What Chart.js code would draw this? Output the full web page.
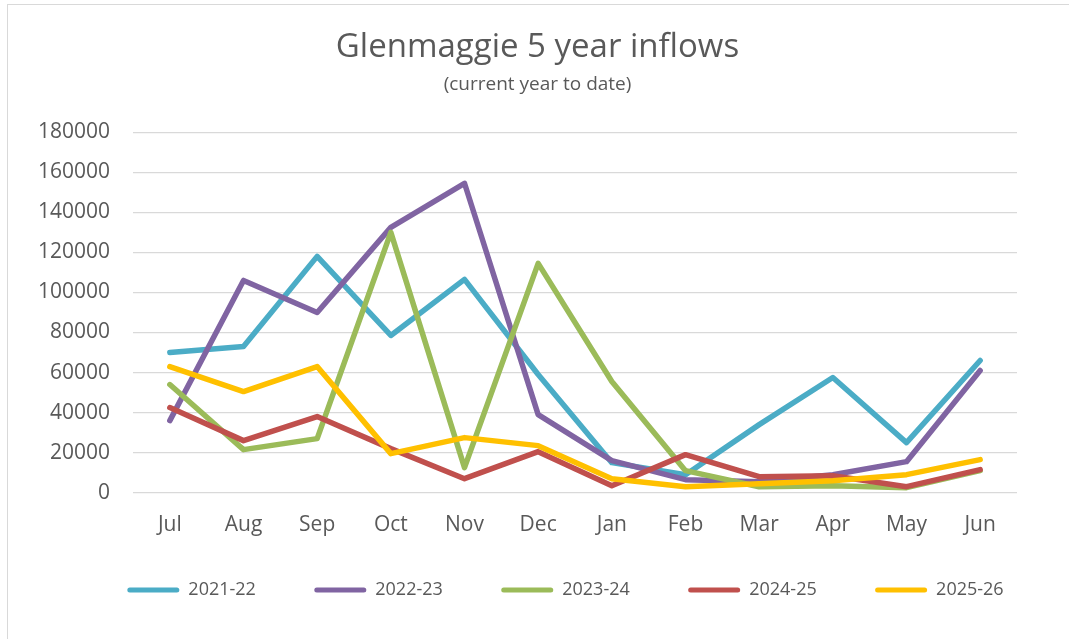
<!DOCTYPE html>
<html>
<head>
<meta charset="utf-8">
<script src="https://cdn.jsdelivr.net/npm/chart.js@4.4.1/dist/chart.umd.min.js"></script>
<style>
  html, body { margin: 0; padding: 0; background: #fff; }
  #wrap { position: relative; width: 1069px; height: 639px; overflow: hidden; }
  #frame { position: absolute; left: 7px; top: 4px; width: 1080px; height: 650px;
           border: 1.5px solid #d9d9d9; box-sizing: border-box; pointer-events: none; }
  canvas { position: absolute; left: 0; top: 0; }
</style>
</head>
<body>
<div id="wrap">
  <canvas id="inflowChart" width="1069" height="639"></canvas>
  <div id="frame"></div>
</div>
<script>
// Months of the water year
const months = ["Jul", "Aug", "Sep", "Oct", "Nov", "Dec", "Jan", "Feb", "Mar", "Apr", "May", "Jun"];

// Inflows per season
const inflow2122 = [70000, 73000, 118000, 78500, 106500, 59000, 15000, 9000, 34000, 57500, 25000, 66000];
const inflow2223 = [36000, 106000, 90000, 132500, 154500, 39000, 16000, 6500, 5500, 9000, 15500, 61000];
const inflow2324 = [54000, 21500, 27000, 130000, 12500, 114500, 55500, 11000, 3000, 3500, 2500, 11000];
const inflow2425 = [42500, 26000, 38000, 22000, 7000, 20500, 3500, 19000, 8000, 8500, 3000, 11500];
const inflow2526 = [63000, 50500, 63000, 19500, 27500, 23500, 7000, 3000, 4500, 6000, 9000, 16500];

const seasons = ["2021-22", "2022-23", "2023-24", "2024-25", "2025-26"];
const colours = ["#4BACC6", "#8064A2", "#9BBB59", "#C0504D", "#FFC000"];
const values = [inflow2122, inflow2223, inflow2324, inflow2425, inflow2526];

const FONT = "'Open Sans', 'DejaVu Sans', sans-serif";
const GREY = "#595959";

// shift title and legend so they sit where Excel put them
const nudge = {
  id: "nudge",
  afterLayout(chart) {
    chart.boxes.forEach(b => {
      if (b === chart.legend) {
        b.left += 52; b.right += 52;
        b.top -= 16; b.bottom -= 16;
      } else if (b.options && b.options.text && !b.axis) {
        b.left += 24; b.right += 24;
      }
    });
  }
};

const datasets = seasons.map((s, i) => ({
  label: s,
  data: values[i],
  borderColor: colours[i],
  backgroundColor: colours[i],
  borderWidth: 5.5,
  borderCapStyle: "round",
  borderJoinStyle: "round",
  pointRadius: 0,
  pointHoverRadius: 0,
  tension: 0,
  fill: false,
  order: seasons.length - i
}));

const ctx = document.getElementById("inflowChart").getContext("2d");
new Chart(ctx, {
  type: "line",
  data: { labels: months, datasets: datasets },
  plugins: [nudge],
  options: {
    responsive: false,
    animation: false,
    layout: { padding: { left: 10, right: 52, top: 0, bottom: 13.9 } },
    plugins: {
      title: {
        display: true,
        text: "Glenmaggie 5 year inflows",
        color: GREY,
        font: { family: FONT, size: 33, weight: "normal" },
        padding: { top: 28.2, bottom: 0 }
      },
      subtitle: {
        display: true,
        text: "(current year to date)",
        color: GREY,
        font: { family: FONT, size: 19, weight: "normal" },
        padding: { top: 5.4, bottom: 36.2 }
      },
      legend: {
        position: "bottom",
        labels: {
          boxWidth: 52,
          boxHeight: 5,
          padding: 58.4,
          color: GREY,
          font: { family: FONT, size: 18 },
          generateLabels: chart => chart.data.datasets.map((ds, i) => ({
            text: ds.label,
            fillStyle: ds.borderColor,
            strokeStyle: ds.borderColor,
            fontColor: GREY,
            lineWidth: 0,
            borderRadius: 2.5,
            hidden: false,
            datasetIndex: i
          }))
        }
      },
      tooltip: { enabled: false }
    },
    scales: {
      x: {
        offset: true,
        grid: { display: false, drawTicks: false, offset: true },
        border: { display: false },
        ticks: { color: GREY, font: { family: FONT, size: 21 }, padding: 20, maxRotation: 0 },
        afterFit: s => { s.height = 46; }
      },
      y: {
        min: 0,
        max: 180000,
        grid: { color: "#d9d9d9", lineWidth: 1.3, drawTicks: false },
        border: { display: false },
        ticks: {
          stepSize: 20000,
          color: GREY,
          font: { family: FONT, size: 21 },
          padding: 23,
          callback: v => String(v)
        },
        afterFit: s => { s.width = 123; }
      }
    }
  }
});
</script>
</body>
</html>
